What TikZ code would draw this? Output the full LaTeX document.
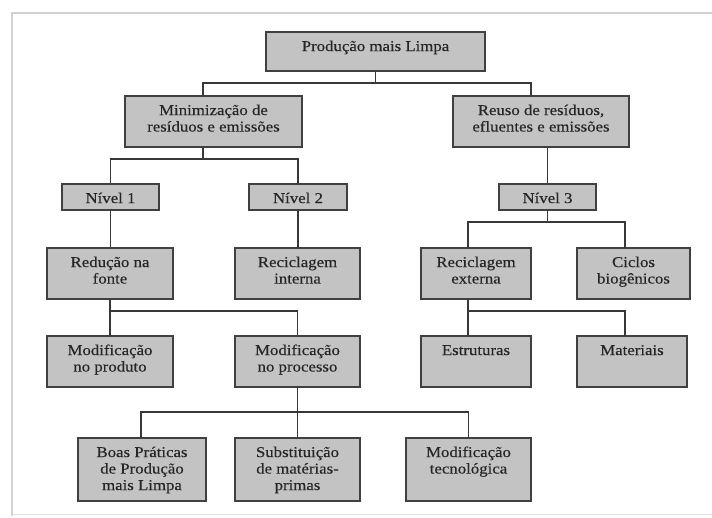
\documentclass[tikz,border=0pt]{standalone}
\usepackage{fontspec}
\setmainfont{Liberation Serif}[FakeStretch=1.12,FakeBold=0.35]
\definecolor{boxfill}{HTML}{C3C3C3}
\definecolor{boxline}{HTML}{404040}
\definecolor{wire}{HTML}{383838}
\definecolor{txt}{HTML}{262626}
\definecolor{framecol}{HTML}{D2D2D2}
\newcommand{\boxtext}[3]{\parbox[c][#2][t]{#1}{\centering\vspace*{7.5pt}\strut #3}}
\begin{document}
\begin{tikzpicture}[x=1pt,y=-1pt,
  box/.style={draw=boxline, fill=boxfill, line width=1.4pt, inner sep=0pt, outer sep=0pt,
    text=txt, font=\fontsize{15pt}{16.5pt}\selectfont},
  wirel/.style={draw=wire, line width=1.1pt}]
\fill[white] (0,0) rectangle (712,517);
\useasboundingbox (0,0) rectangle (712,517);
% frame
\draw[framecol, line width=1.4pt] (12,516) -- (12,13) -- (712,13);
\draw[framecol!70, line width=1pt] (12,514) -- (712,514);
% boxes
\node[box] (prod)  at (375.5,51.5) {\boxtext{219pt}{39pt}{Produção mais Limpa}};
\node[box] (mini)  at (213.5,121.5) {\boxtext{177pt}{51pt}{Minimização de\\resíduos e emissões}};
\node[box] (reuso) at (541,121.5) {\boxtext{176pt}{51pt}{Reuso de resíduos,\\efluentes e emissões}};
\node[box] (n1) at (110.5,197) {\boxtext{97pt}{26pt}{Nível 1}};
\node[box] (n2) at (298,197) {\boxtext{98pt}{26pt}{Nível 2}};
\node[box] (n3) at (547.5,197) {\boxtext{97pt}{26pt}{Nível 3}};
\node[box] (red)  at (110,273.5) {\boxtext{126pt}{51pt}{Redução na\\fonte}};
\node[box] (rint) at (297.5,273.5) {\boxtext{125pt}{51pt}{Reciclagem\\interna}};
\node[box] (rext) at (476,273.5) {\boxtext{110pt}{51pt}{Reciclagem\\externa}};
\node[box] (cic)  at (633.5,273.5) {\boxtext{113pt}{51pt}{Ciclos\\biogênicos}};
\node[box] (mprod) at (110,361.5) {\boxtext{126pt}{51pt}{Modificação\\no produto}};
\node[box] (mproc) at (297.5,361.5) {\boxtext{125pt}{51pt}{Modificação\\no processo}};
\node[box] (est) at (476,361.5) {\boxtext{110pt}{51pt}{Estruturas}};
\node[box] (mat) at (632,361.5) {\boxtext{110pt}{51pt}{Materiais}};
\node[box] (boas)  at (142,469.5) {\boxtext{128pt}{63pt}{Boas Práticas\\de Produção\\mais Limpa}};
\node[box] (subst) at (297.5,469.5) {\boxtext{125pt}{63pt}{Substituição\\de matérias-\\primas}};
\node[box] (mtec)  at (468.5,469.5) {\boxtext{125pt}{63pt}{Modificação\\tecnológica}};
% connectors
\draw[wirel] (prod.south) -- ++(0,12) coordinate (j0) -| ([xshift=-10.5pt]mini.north);
\draw[wirel] (j0) -| ([xshift=-10pt]reuso.north);
\draw[wirel] ([xshift=-10.5pt]mini.south) -- ++(0,12) coordinate (j1) -| (n1.north);
\draw[wirel] (j1) -| (n2.north);
\draw[wirel] (n3.north) -- (n3.north |- reuso.south);
\draw[wirel] (n1.south) -- (n1.south |- red.north);
\draw[wirel] (n2.south) -- (n2.south |- rint.north);
\draw[wirel] (n3.south) -- ++(0,12) coordinate (j2) -| ([xshift=-8pt]rext.north);
\draw[wirel] (j2) -| ([xshift=-8.5pt]cic.north);
\draw[wirel] (red.south) -- ++(0,12) coordinate (j3) -| (mprod.north);
\draw[wirel] (j3) -| (mproc.north);
\draw[wirel] ([xshift=-8pt]rext.south) -- ++(0,12) coordinate (j4) -| ([xshift=-8pt]est.north);
\draw[wirel] (j4) -| ([xshift=-7pt]mat.north);
\draw[wirel] (mproc.south) -- ++(0,25) coordinate (j5) -| ([xshift=-1pt]boas.north);
\draw[wirel] (j5) -- (subst.north);
\draw[wirel] (j5) -| (mtec.north);
\end{tikzpicture}
\end{document}
